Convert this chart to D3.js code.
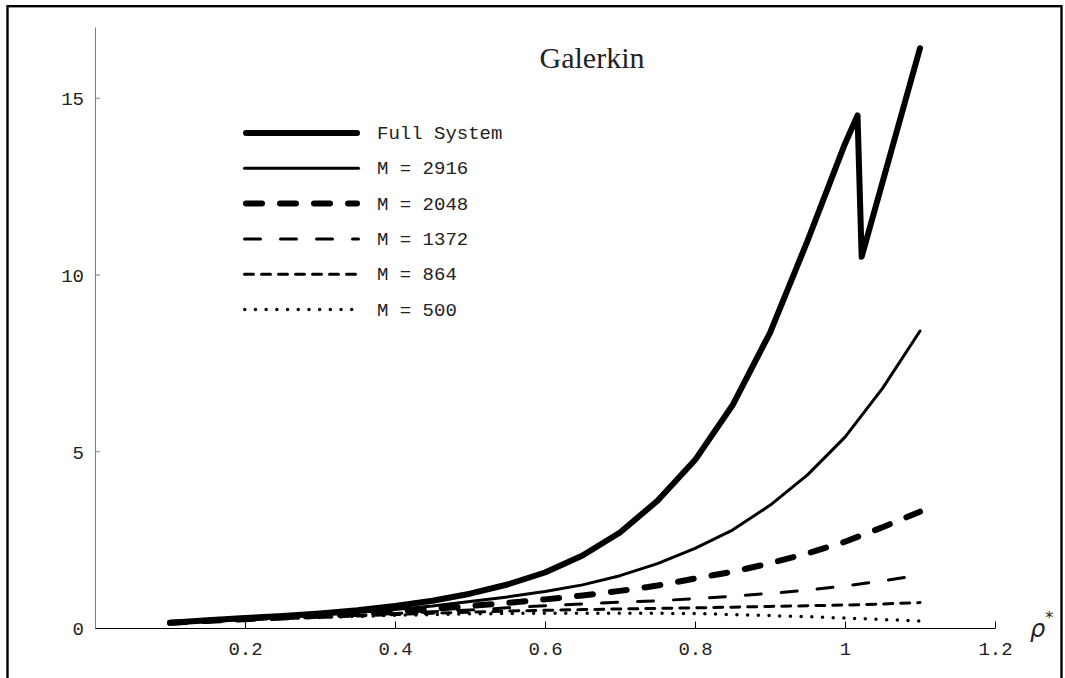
<!DOCTYPE html>
<html>
<head>
<meta charset="utf-8">
<script src="https://cdn.jsdelivr.net/npm/d3@7"></script>
<style>
  html, body { margin: 0; padding: 0; background: #fff; }
  svg { display: block; }
  .axis text { font-family: "Liberation Mono", monospace; font-size: 19px; fill: #222; }
  .axis.y path, .axis.y line { stroke: #808080; }
  .axis.x path, .axis.x line { stroke: #000; }
  .legend text { font-family: "Liberation Mono", monospace; font-size: 19px; fill: #222; }
  .title { font-family: "Liberation Serif", serif; font-size: 30px; fill: #222; }
</style>
</head>
<body>
<div id="chart"></div>
<script>
// abscissa values shared by the reduced models
const rho = [0.1, 0.15, 0.2, 0.25, 0.3, 0.35, 0.4, 0.45, 0.5, 0.55, 0.6,
  0.65, 0.7, 0.75, 0.8, 0.85, 0.9, 0.95, 1.0, 1.05, 1.1];

// full system has a couple of extra points around the jump near 1.02
const fullRho = [0.1, 0.15, 0.2, 0.25, 0.3, 0.35, 0.4, 0.45, 0.5, 0.55, 0.6,
  0.65, 0.7, 0.75, 0.8, 0.85, 0.9, 0.95, 1.0, 1.0167, 1.0222, 1.1];
const fullSystem = [0.15, 0.22, 0.28, 0.34, 0.41, 0.5, 0.62, 0.77, 0.97, 1.23, 1.57,
  2.05, 2.7, 3.6, 4.75, 6.3, 8.35, 10.95, 13.7, 14.5, 10.5, 16.4];

const m2916 = [0.15, 0.2, 0.26, 0.31, 0.37, 0.44, 0.52, 0.62, 0.75, 0.88, 1.03,
  1.22, 1.48, 1.82, 2.25, 2.77, 3.47, 4.33, 5.4, 6.78, 8.4];
const m2048 = [0.15, 0.2, 0.25, 0.3, 0.35, 0.41, 0.47, 0.54, 0.62, 0.71, 0.81,
  0.92, 1.05, 1.2, 1.4, 1.59, 1.83, 2.11, 2.44, 2.85, 3.29];
const m1372 = [0.15, 0.19, 0.23, 0.27, 0.31, 0.36, 0.41, 0.46, 0.51, 0.57, 0.63,
  0.68, 0.73, 0.77, 0.83, 0.9, 0.98, 1.07, 1.19, 1.33, 1.5];
const m864 = [0.15, 0.19, 0.23, 0.27, 0.3, 0.34, 0.38, 0.42, 0.45, 0.48, 0.5,
  0.52, 0.54, 0.555, 0.57, 0.59, 0.61, 0.63, 0.65, 0.68, 0.72];
const m500 = [0.15, 0.19, 0.23, 0.27, 0.3, 0.33, 0.36, 0.38, 0.4, 0.41, 0.42,
  0.42, 0.42, 0.415, 0.41, 0.38, 0.35, 0.32, 0.28, 0.24, 0.2];

const seriesNames = ['Full System', 'M = 2916', 'M = 2048', 'M = 1372', 'M = 864', 'M = 500'];
const xTicks = [0.2, 0.4, 0.6, 0.8, 1, 1.2];
const yTicks = [0, 5, 10, 15];

const styles = [
  { width: 6, dash: null, cap: 'round' },
  { width: 3, dash: null, cap: 'round' },
  { width: 6, dash: '16,18', cap: 'round' },
  { width: 3, dash: '16,20', cap: 'round' },
  { width: 3, dash: '9,8', cap: 'round' },
  { width: 3.5, dash: '0,10.7', cap: 'round' }
];

const series = [
  { xs: fullRho, ys: fullSystem },
  { xs: rho, ys: m2916 },
  { xs: rho, ys: m2048 },
  { xs: rho, ys: m1372 },
  { xs: rho, ys: m864 },
  { xs: rho, ys: m500 }
].map((s, i) => ({
  name: seriesNames[i],
  style: styles[i],
  points: s.xs.map((x, j) => ({ x, y: s.ys[j] }))
}));

const width = 1065;
const height = 678;

const xScale = d3.scaleLinear().domain([0, 1.2]).range([95, 995]);
const yScale = d3.scaleLinear().domain([0, 17]).range([628, 27]);

const svg = d3.select('#chart')
  .append('svg')
  .attr('width', width)
  .attr('height', height);

// outer frame
svg.append('rect')
  .attr('x', 7.5)
  .attr('y', 6.2)
  .attr('width', 1054)
  .attr('height', 700)
  .attr('fill', 'none')
  .attr('stroke', '#000')
  .attr('stroke-width', 2.4);

const yAxis = d3.axisLeft(yScale)
  .tickValues(yTicks)
  .tickFormat(d3.format('d'))
  .tickSize(-5)
  .tickSizeOuter(0)
  .tickPadding(11);

const xAxis = d3.axisBottom(xScale)
  .tickValues(xTicks)
  .tickFormat((d) => String(d))
  .tickSize(-6.5)
  .tickSizeOuter(0)
  .tickPadding(14);

svg.append('g')
  .attr('class', 'axis y')
  .attr('transform', `translate(${xScale(0)},0)`)
  .call(yAxis)
  .call((g) => g.selectAll('text').attr('dy', '0.36em'));

svg.append('g')
  .attr('class', 'axis x')
  .attr('transform', `translate(0,${yScale(0)})`)
  .call(xAxis)
  .call((g) => g.selectAll('.tick line').attr('stroke', '#555'));

const line = d3.line()
  .x((d) => xScale(d.x))
  .y((d) => yScale(d.y));

svg.append('g')
  .selectAll('path')
  .data(series.slice().reverse())
  .join('path')
  .attr('d', (d) => line(d.points))
  .attr('fill', 'none')
  .attr('stroke', '#000')
  .attr('stroke-width', (d) => d.style.width)
  .attr('stroke-linecap', (d) => d.style.cap)
  .attr('stroke-linejoin', 'round')
  .attr('stroke-dasharray', (d) => d.style.dash);

// title
svg.append('text')
  .attr('class', 'title')
  .attr('x', 592)
  .attr('y', 68)
  .attr('text-anchor', 'middle')
  .text('Galerkin');

// axis label rho*
const rhoLabel = svg.append('text')
  .attr('x', 1030)
  .attr('y', 637)
  .attr('font-family', '"DejaVu Sans", sans-serif')
  .attr('font-style', 'italic')
  .attr('font-size', 24)
  .attr('fill', '#222');
rhoLabel.append('tspan').text('\u03C1');
rhoLabel.append('tspan')
  .attr('dy', -14)
  .attr('font-size', 16)
  .attr('font-style', 'normal')
  .text('*');

// legend
const legend = svg.append('g').attr('class', 'legend');
const rows = legend.selectAll('g')
  .data(series)
  .join('g')
  .attr('transform', (d, i) => `translate(243,${133 + i * 35.3})`);

rows.append('line')
  .attr('x1', (d) => d.style.width / 2)
  .attr('x2', (d) => 117 - d.style.width / 2)
  .attr('y1', 0)
  .attr('y2', 0)
  .attr('stroke', '#000')
  .attr('stroke-width', (d) => d.style.width)
  .attr('stroke-linecap', (d) => d.style.cap)
  .attr('stroke-dasharray', (d) => d.style.dash);

rows.append('text')
  .attr('x', 134)
  .attr('y', 6)
  .text((d) => d.name);
</script>
</body>
</html>
